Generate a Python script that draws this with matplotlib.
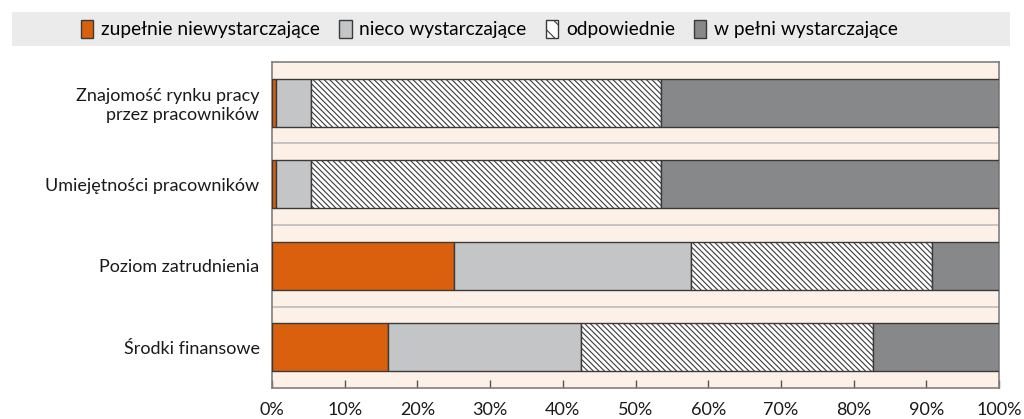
import matplotlib
matplotlib.use("Agg")
import matplotlib.pyplot as plt
from matplotlib.patches import Rectangle, Patch
import numpy as np

categories = ["Znajomość rynku pracy\nprzez pracowników", "Umiejętności pracowników",
              "Poziom zatrudnienia", "Środki finansowe"]
series_names = ["zupełnie niewystarczające", "nieco wystarczające", "odpowiednie", "w pełni wystarczające"]
zupelnie = [0.6, 0.6, 25.1, 15.9]
nieco = [4.8, 4.8, 32.6, 26.6]
odpowiednie = [48.1, 48.1, 33.1, 40.1]
w_pelni = [46.5, 46.5, 9.2, 17.4]
xticks = [0, 10, 20, 30, 40, 50, 60, 70, 80, 90, 100]
xtick_labels = [f"{t}%" for t in xticks]

plt.rcParams['font.family'] = ['Lato', 'DejaVu Sans']
plt.rcParams['hatch.linewidth'] = 0.8

fig = plt.figure(figsize=(10.24, 4.19), dpi=100)
ax = fig.add_axes([272/1024, 1-388/419, (999-272)/1024, (388-62)/419])
ax.set_facecolor('#FDF1E7')

series = [zupelnie, nieco, odpowiednie, w_pelni]
colors = ['#DA600E', '#C4C5C7', 'white', '#878889']
hatches = [None, None, '\\' * 6, None]
y = np.arange(len(categories))
left = np.zeros(len(categories))
for vals, c, h, name in zip(series, colors, hatches, series_names):
    ax.barh(y, vals, left=left, height=0.59, color=c, edgecolor='#3a3a3a',
            linewidth=1.0, hatch=h, label=name, zorder=3)
    left += np.array(vals)

ax.set_ylim(len(categories)-0.5, -0.5)
ax.set_xlim(0, 100)
for b in np.arange(0.5, len(categories)-0.5, 1):
    ax.axhline(b, color='#BDBDBD', lw=1.2, zorder=1)

ax.set_yticks(y)
ax.set_yticklabels(categories, fontsize=13, ha='right', multialignment='right', color='#1a1a1a')
ax.tick_params(axis='y', length=0, pad=9)
ax.set_xticks(xticks)
ax.set_xticklabels(xtick_labels, fontsize=13, color='#1a1a1a')
ax.tick_params(axis='x', direction='in', length=6, width=1, color='#555555', pad=10)
for s in ax.spines.values():
    s.set_color('#7f7f7f')
    s.set_linewidth(1.2)

fig.patches.append(Rectangle((12/1024, 1-46/419), (1010-12)/1024, 34/419,
                             transform=fig.transFigure, facecolor='#EBEBEB',
                             edgecolor='none', zorder=0))
handles = [Patch(facecolor=c, edgecolor='#3a3a3a', hatch=('\\\\' if h else None), linewidth=1.0)
           for c, h in zip(colors, hatches)]
leg = fig.legend(handles, series_names, loc='center', bbox_to_anchor=(0.478, 1-29/419),
                 ncol=4, frameon=False, fontsize=13.8, handlelength=0.65, handleheight=1.1,
                 handletextpad=0.4, columnspacing=1.0)

fig.savefig("out.png", dpi=100)
